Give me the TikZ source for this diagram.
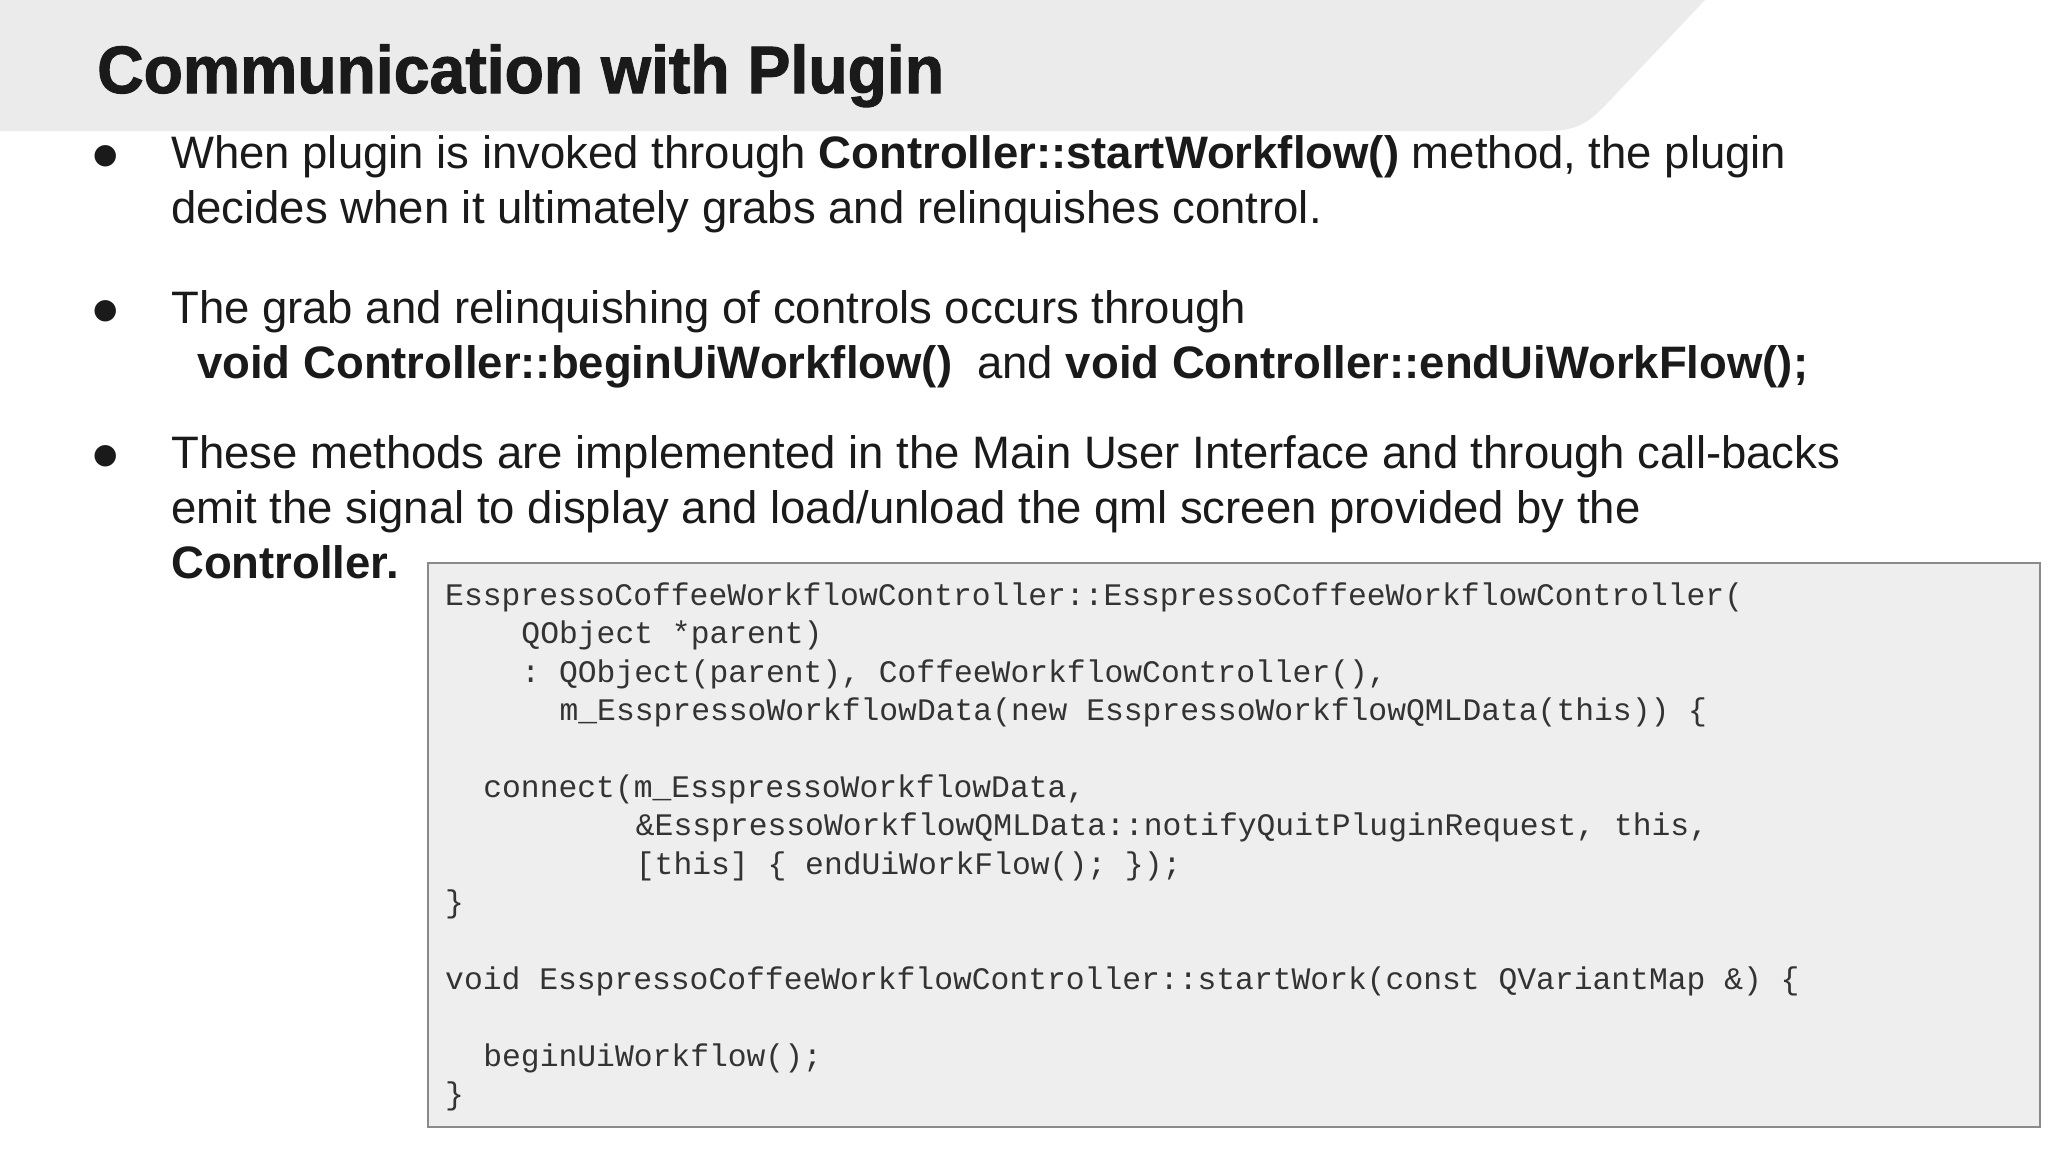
\documentclass[tikz,border=0pt]{standalone}
\usepackage{fontspec}
\setmainfont{Liberation Sans}
\setmonofont{Liberation Mono}
\newfontfamily\dvs{DejaVu Sans}
\definecolor{banner}{HTML}{EBEBEB}
\definecolor{codebg}{HTML}{EEEEEE}
\definecolor{codeborder}{HTML}{8A8A8A}
\definecolor{txt}{HTML}{1A1A1A}
\definecolor{codetxt}{HTML}{333333}
\begin{document}
\begin{tikzpicture}[x=1pt,y=-1pt,
  body/.style={anchor=base west,inner sep=0pt,text=txt,font=\fontsize{45.5}{50}\selectfont},
  bul/.style={anchor=base west,inner sep=0pt,text=txt,font=\dvs\fontsize{28}{34}\selectfont},
  code/.style={anchor=base west,inner sep=0pt,text=codetxt,font=\ttfamily\fontsize{31.35}{36}\selectfont}]
\useasboundingbox (0,0) rectangle (2048,1152);
\fill[white] (0,0) rectangle (2048,1152);
\fill[banner] (0,0) -- (1705,0) -- (1615,95) .. controls (1590,122) and (1580,131) .. (1545,131) -- (0,131) -- cycle;
\node[anchor=base west,inner sep=0pt,text=txt,font=\bfseries\fontsize{67}{70}\selectfont] (title) at (97,93) {\addfontfeature{FakeStretch=0.96,FakeBold=1.5}Communication with Plugin};
% bullets
\node[bul] (b1) at (93,163) {●};
\node[bul] (b2) at (93,318) {●};
\node[bul] (b3) at (93,463) {●};
\node[body] (l1) at (171,168) {When plugin is invoked through \textbf{Controller::startWorkflow()} method, the plugin};
\node[body] (l2) at (171,223) {decides when it ultimately grabs and relinquishes control.};
\node[body] (l3) at (171,323) {The grab and relinquishing of controls occurs through};
\node[body] (l4) at (197,378) {\textbf{void Controller::beginUiWorkflow()}\ \ and \textbf{void Controller::endUiWorkFlow();}};
\node[body] (l5) at (171,468) {These methods are implemented in the Main User Interface and through call-backs};
\node[body] (l6) at (171,523) {emit the signal to display and load/unload the qml screen provided by the};
\node[body] (l7) at (171,578) {\textbf{Controller.}};
% code box
\node[draw=codeborder,line width=1.5pt,fill=codebg,anchor=north west,minimum width=1612,minimum height=564,inner sep=0pt] (box) at (427,562) {};
\def\cw{19.07}
\node[code] (c1) at (445,605) {EsspressoCoffeeWorkflowController::EsspressoCoffeeWorkflowController(};
\node[code] (c2) at (445+4*\cw,643) {QObject *parent)};
\node[code] (c3) at (445+4*\cw,682) {: QObject(parent), CoffeeWorkflowController(),};
\node[code] (c4) at (445+6*\cw,720) {m\_EsspressoWorkflowData(new EsspressoWorkflowQMLData(this)) \{};
\node[code] (c6) at (445+2*\cw,797) {connect(m\_EsspressoWorkflowData,};
\node[code] (c7) at (445+10*\cw,835) {\&EsspressoWorkflowQMLData::notifyQuitPluginRequest, this,};
\node[code] (c8) at (445+10*\cw,874) {[this] \{ endUiWorkFlow(); \});};
\node[code] (c9) at (445,912) {\}};
\node[code] (c11) at (445,989) {void EsspressoCoffeeWorkflowController::startWork(const QVariantMap \&) \{};
\node[code] (c13) at (445+2*\cw,1066) {beginUiWorkflow();};
\node[code] (c14) at (445,1104) {\}};
\end{tikzpicture}
\end{document}
